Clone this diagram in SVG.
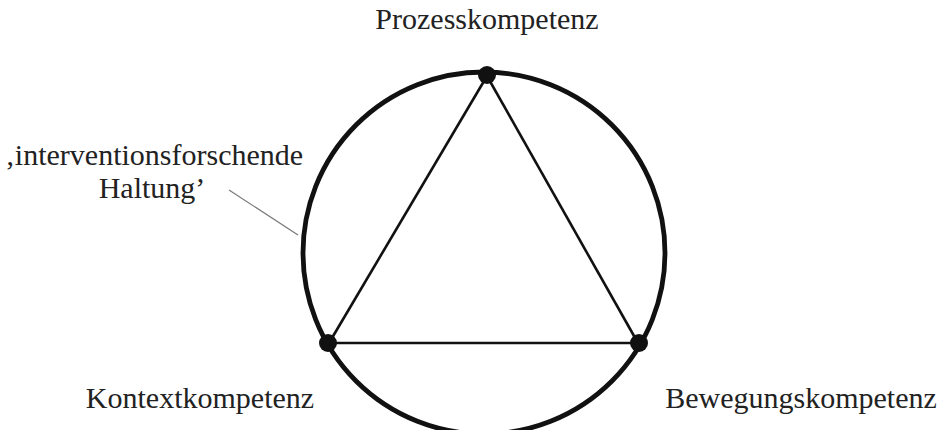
<svg xmlns="http://www.w3.org/2000/svg" width="940" height="430" viewBox="0 0 940 430">
<style>
text{font-family:"Liberation Serif","Times New Roman",serif;font-size:30px;fill:#222;text-anchor:middle}
.ring{fill:none;stroke:#111;stroke-width:4.8}
.edge{stroke:#111;stroke-width:2.6;fill:none}
.lead{stroke:#777;stroke-width:1.2;fill:none}
.dot{fill:#111}
</style>
<rect width="940" height="430" fill="#fff"/>
<g id="ring"><circle class="ring" cx="484" cy="253" r="181"/></g>
<g id="connectors">
<line class="edge" x1="487" y1="76" x2="329" y2="343"/>
<line class="edge" x1="487" y1="76" x2="638" y2="343"/>
<line class="edge" x1="329" y1="343" x2="638" y2="343"/>
<line class="lead" x1="229" y1="190" x2="298" y2="235"/>
</g>
<g id="prozess"><circle class="dot" cx="487" cy="75" r="9"/><text x="487" y="29">Prozesskompetenz</text></g>
<g id="kontext"><circle class="dot" cx="328" cy="343" r="9"/><text x="200" y="408">Kontextkompetenz</text></g>
<g id="bewegung"><circle class="dot" cx="639" cy="343" r="9"/><text x="801" y="408">Bewegungskompetenz</text></g>
<g id="haltung"><text x="154" y="165">‚interventionsforschende</text><text x="152" y="198">Haltung’</text></g>
</svg>
